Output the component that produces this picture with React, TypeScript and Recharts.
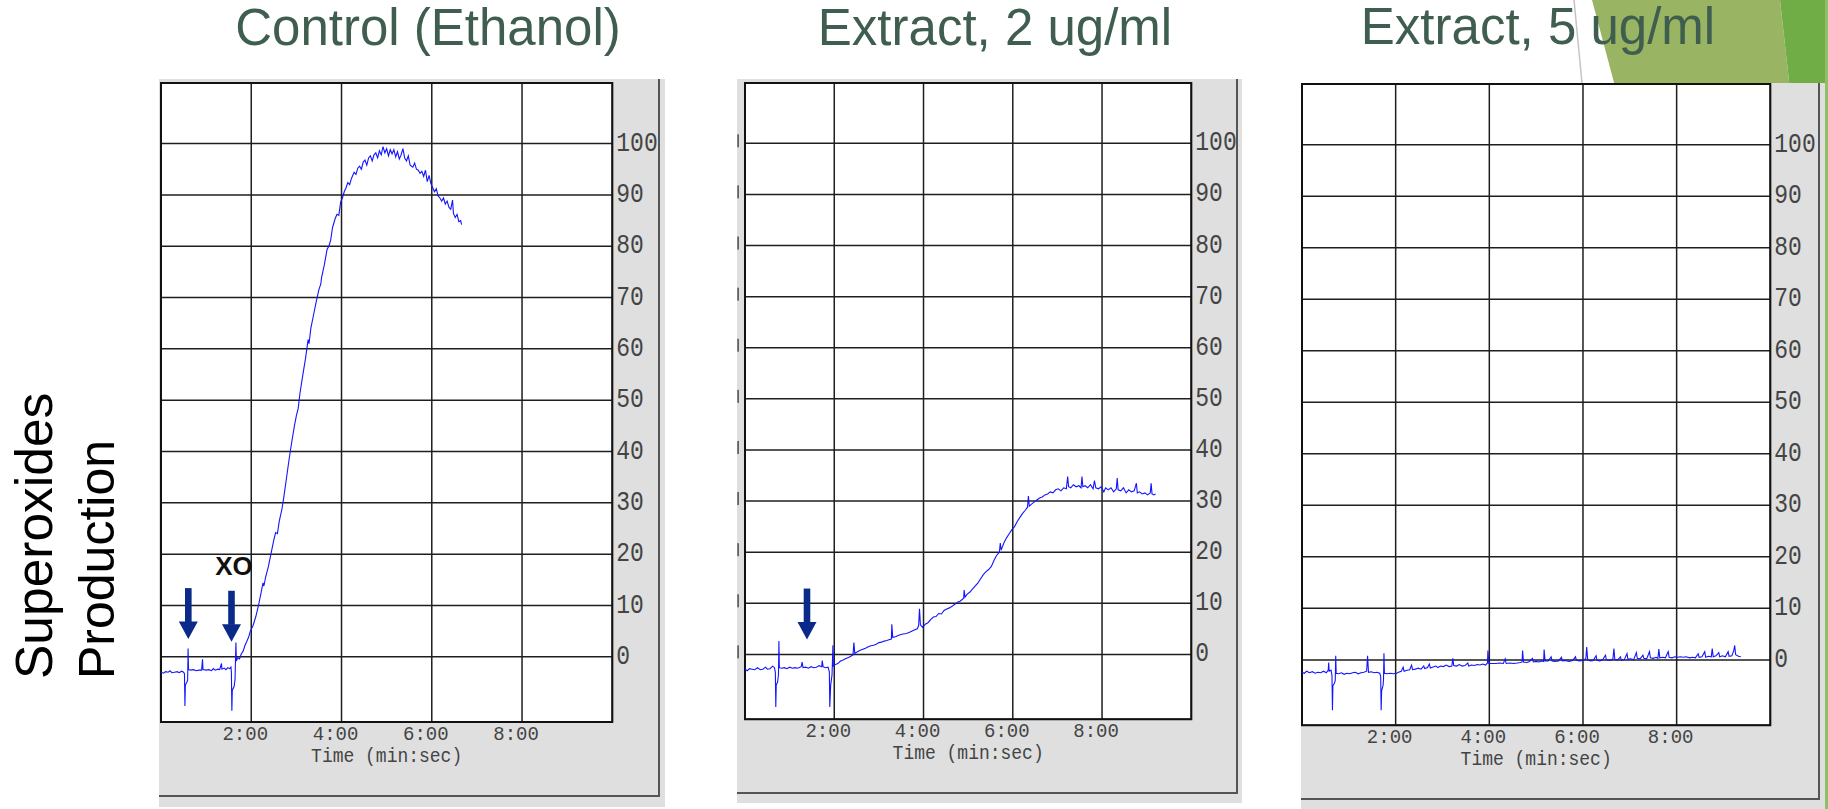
import React from "react";
import {
  LineChart,
  Line,
  XAxis,
  YAxis,
  CartesianGrid,
  ReferenceArea,
  ReferenceDot,
} from "recharts";

// ---- data (time in minutes, signal in %) ----
const panelTitles = ["Control (Ethanol)", "Extract, 2 ug/ml", "Extract, 5 ug/ml"];
const yAxisTitle = ["Superoxides", "Production"];
const timeAxisTitle = "Time (min:sec)";
const timeTicks = [2, 4, 6, 8];
const signalTicks = [0, 10, 20, 30, 40, 50, 60, 70, 80, 90, 100];
const timeDomain: [number, number] = [0, 10];
const signalDomain: [number, number] = [-12.7, 111.8];

const controlTrace: [number, number][] = [
  [0.0, -3.0], [0.06, -3.2], [0.1, -2.9], [0.16, -3.0], [0.2, -2.7], [0.24, -3.1], [0.3, -3.0],
  [0.36, -2.9], [0.4, -3.1], [0.46, -2.8], [0.5, -3.0], [0.52, -3.3], [0.53, -9.6], [0.54, -5.5],
  [0.57, -5.0], [0.59, -4.6], [0.6, 1.6], [0.61, -2.5], [0.66, -2.6], [0.72, -2.5], [0.78, -2.7],
  [0.84, -2.6], [0.9, -2.6], [0.92, -0.5], [0.93, -2.5], [1.0, -2.6], [1.06, -2.5], [1.12, -2.7],
  [1.16, -2.3], [1.2, -2.6], [1.26, -2.4], [1.3, -2.5], [1.34, -1.3], [1.35, -2.4], [1.4, -2.2],
  [1.44, -2.5], [1.48, -2.1], [1.52, -2.3], [1.55, -2.0], [1.56, -3.0], [1.57, -10.5], [1.58, -6.5],
  [1.62, -5.8], [1.64, -4.5], [1.66, 2.8], [1.67, -0.8], [1.7, -0.2], [1.74, -0.4], [1.78, 0.6],
  [1.82, 1.1], [1.86, 2.2], [1.9, 3.0], [1.94, 3.8], [1.98, 5.0], [2.04, 6.1], [2.1, 7.8],
  [2.16, 10.0], [2.22, 12.6], [2.26, 14.4], [2.28, 13.8], [2.32, 15.6], [2.38, 17.6], [2.44, 20.2],
  [2.5, 22.8], [2.54, 24.2], [2.58, 24.0], [2.62, 26.4], [2.68, 28.8], [2.72, 31.0], [2.78, 34.8],
  [2.84, 38.6], [2.9, 42.0], [2.96, 45.2], [3.0, 47.0], [3.04, 48.4], [3.08, 51.4], [3.14, 54.8],
  [3.2, 58.0], [3.26, 61.8], [3.28, 61.0], [3.32, 64.0], [3.38, 66.6], [3.44, 69.2], [3.5, 71.6],
  [3.54, 72.6], [3.56, 74.0], [3.62, 76.4], [3.68, 79.4], [3.72, 80.0], [3.76, 81.2], [3.8, 83.6],
  [3.86, 85.4], [3.9, 86.2], [3.94, 86.0], [3.98, 88.6], [4.02, 89.4], [4.06, 90.6], [4.1, 91.4],
  [4.14, 92.4], [4.18, 92.0], [4.22, 93.2], [4.28, 94.4], [4.32, 94.0], [4.36, 95.2], [4.4, 95.6],
  [4.44, 95.0], [4.48, 96.4], [4.52, 96.8], [4.56, 95.8], [4.6, 97.2], [4.64, 97.6], [4.68, 96.6],
  [4.72, 97.8], [4.76, 98.2], [4.8, 97.2], [4.84, 98.6], [4.88, 97.8], [4.92, 99.4], [4.96, 98.2],
  [5.0, 99.0], [5.04, 97.6], [5.08, 98.8], [5.12, 98.0], [5.16, 98.8], [5.2, 97.4], [5.24, 98.4],
  [5.28, 97.0], [5.32, 97.8], [5.36, 99.0], [5.4, 97.2], [5.44, 96.6], [5.48, 97.6], [5.52, 95.8],
  [5.58, 95.4], [5.62, 96.2], [5.66, 95.0], [5.7, 94.8], [5.74, 94.2], [5.78, 94.6], [5.82, 93.6],
  [5.86, 94.8], [5.9, 92.6], [5.94, 93.8], [5.98, 92.2], [6.02, 91.4], [6.06, 90.6], [6.1, 91.2],
  [6.14, 89.8], [6.18, 89.4], [6.22, 88.8], [6.26, 89.4], [6.3, 88.2], [6.34, 88.8], [6.38, 87.6],
  [6.42, 87.2], [6.46, 89.0], [6.48, 86.4], [6.52, 85.6], [6.56, 86.2], [6.6, 84.8], [6.64, 85.0],
  [6.66, 84.2],
];

const extract2Trace: [number, number][] = [
  [0.0, -2.9], [0.05, -3.2], [0.1, -2.8], [0.16, -2.9], [0.22, -3.0], [0.28, -2.6], [0.34, -3.0],
  [0.4, -2.9], [0.46, -2.5], [0.5, -2.9], [0.56, -2.8], [0.62, -2.3], [0.66, -2.6], [0.68, -3.5],
  [0.69, -10.3], [0.7, -6.0], [0.73, -5.4], [0.75, -4.0], [0.76, 2.6], [0.77, -2.6], [0.82, -2.7],
  [0.88, -2.6], [0.94, -2.8], [1.0, -2.5], [1.06, -2.7], [1.12, -2.6], [1.18, -2.7], [1.26, -2.4],
  [1.28, -1.5], [1.3, -2.6], [1.36, -2.5], [1.42, -2.7], [1.48, -2.4], [1.54, -2.6], [1.6, -2.5],
  [1.66, -2.2], [1.72, -2.4], [1.73, -1.2], [1.75, -2.4], [1.8, -2.6], [1.86, -2.5], [1.89, -3.4],
  [1.9, -10.3], [1.92, -6.0], [1.95, -4.0], [1.97, 1.8], [1.98, -2.3], [2.02, -2.0], [2.08, -1.8],
  [2.14, -1.3], [2.2, -1.1], [2.26, -0.8], [2.32, -0.6], [2.38, -0.3], [2.42, -0.1], [2.44, 2.3],
  [2.46, 0.2], [2.52, 0.5], [2.58, 0.8], [2.64, 1.0], [2.7, 1.2], [2.76, 1.5], [2.82, 1.7],
  [2.88, 1.8], [2.94, 2.0], [3.0, 2.3], [3.06, 2.4], [3.12, 2.6], [3.18, 2.7], [3.24, 2.9],
  [3.28, 3.0], [3.29, 5.9], [3.31, 3.3], [3.38, 3.5], [3.46, 3.8], [3.54, 4.0], [3.62, 4.1],
  [3.7, 4.4], [3.78, 4.7], [3.86, 5.0], [3.89, 5.6], [3.91, 8.9], [3.93, 5.8], [3.98, 5.3],
  [4.04, 5.9], [4.1, 6.2], [4.16, 6.8], [4.22, 7.3], [4.28, 7.4], [4.34, 8.0], [4.4, 7.9],
  [4.46, 8.6], [4.52, 8.9], [4.58, 9.1], [4.64, 9.4], [4.7, 9.8], [4.76, 10.2], [4.82, 10.4],
  [4.9, 11.0], [4.91, 12.6], [4.93, 11.2], [4.98, 11.8], [5.04, 12.2], [5.1, 12.8], [5.16, 13.4],
  [5.22, 14.0], [5.28, 14.8], [5.34, 15.6], [5.4, 16.2], [5.46, 16.6], [5.52, 17.2], [5.58, 18.4],
  [5.64, 19.4], [5.7, 20.0], [5.72, 21.8], [5.74, 20.4], [5.8, 21.8], [5.86, 22.8], [5.92, 23.6],
  [5.98, 24.4], [6.04, 25.0], [6.1, 26.0], [6.16, 26.8], [6.22, 27.6], [6.28, 28.2], [6.33, 28.8],
  [6.35, 31.0], [6.37, 29.0], [6.42, 29.4], [6.48, 29.8], [6.54, 30.2], [6.6, 30.6], [6.66, 30.8],
  [6.72, 31.2], [6.78, 31.4], [6.84, 31.8], [6.9, 31.6], [6.96, 32.2], [7.02, 32.4], [7.08, 32.0],
  [7.14, 32.6], [7.2, 32.4], [7.23, 34.8], [7.25, 32.8], [7.3, 32.6], [7.36, 33.2], [7.42, 32.8],
  [7.48, 33.0], [7.53, 32.6], [7.55, 34.8], [7.57, 32.8], [7.62, 33.0], [7.68, 32.6], [7.74, 33.2],
  [7.8, 32.4], [7.83, 34.0], [7.86, 32.6], [7.92, 32.4], [7.98, 32.8], [8.04, 31.8], [8.08, 32.6],
  [8.14, 32.2], [8.2, 32.6], [8.26, 31.8], [8.32, 32.4], [8.34, 34.5], [8.36, 32.2], [8.42, 32.0],
  [8.48, 32.6], [8.54, 31.6], [8.6, 32.2], [8.66, 31.8], [8.72, 32.0], [8.77, 33.5], [8.79, 31.6],
  [8.84, 31.8], [8.9, 31.4], [8.96, 31.6], [9.02, 31.2], [9.08, 31.6], [9.1, 33.5], [9.12, 31.4],
  [9.16, 31.2], [9.2, 31.4],
];

const extract5Trace: [number, number][] = [
  [0.0, -2.4], [0.05, -2.6], [0.1, -2.2], [0.16, -2.5], [0.22, -2.3], [0.28, -2.6], [0.34, -2.4],
  [0.4, -2.5], [0.46, -2.2], [0.52, -2.5], [0.56, -2.0], [0.57, -0.5], [0.58, -2.2], [0.62, -2.0],
  [0.64, -3.0], [0.65, -9.8], [0.66, -5.0], [0.69, -4.6], [0.71, -4.0], [0.72, 0.8], [0.73, -2.6],
  [0.78, -2.7], [0.84, -2.5], [0.9, -2.8], [0.96, -2.6], [1.02, -2.7], [1.08, -2.5], [1.14, -2.4],
  [1.2, -2.7], [1.26, -2.5], [1.32, -2.4], [1.38, -2.2], [1.4, 0.8], [1.42, -2.4], [1.48, -2.3],
  [1.54, -2.5], [1.6, -2.4], [1.66, -2.6], [1.68, -3.2], [1.69, -9.8], [1.7, -6.0], [1.73, -5.0],
  [1.74, -4.0], [1.75, 1.3], [1.76, -2.6], [1.82, -2.7], [1.88, -2.6], [1.96, -2.7], [2.02, -2.6],
  [2.06, -2.4], [2.12, -2.2], [2.16, -1.4], [2.18, -2.2], [2.24, -2.0], [2.3, -1.9], [2.34, -1.0],
  [2.36, -1.9], [2.42, -1.8], [2.48, -1.6], [2.54, -1.8], [2.6, -1.2], [2.62, -1.7], [2.68, -1.5],
  [2.72, -0.8], [2.74, -1.6], [2.8, -1.4], [2.86, -1.2], [2.9, -1.5], [2.96, -1.2], [3.02, -1.3],
  [3.08, -1.0], [3.14, -1.3], [3.2, -1.2], [3.22, 0.3], [3.24, -1.1], [3.3, -1.2], [3.36, -0.9],
  [3.42, -1.2], [3.48, -1.1], [3.54, -0.6], [3.56, -1.2], [3.62, -1.0], [3.68, -1.1], [3.74, -0.9],
  [3.8, -1.0], [3.86, -0.8], [3.92, -1.0], [3.96, -0.6], [3.97, 1.8], [3.99, -0.7], [4.06, -0.7],
  [4.14, -0.7], [4.22, -0.6], [4.3, -0.7], [4.34, 0.2], [4.36, -0.7], [4.44, -0.6], [4.52, -0.7],
  [4.6, -0.6], [4.66, -0.5], [4.7, -0.4], [4.71, 1.8], [4.73, -0.4], [4.8, -0.5], [4.86, -0.3],
  [4.92, 0.3], [4.94, -0.4], [5.0, -0.3], [5.06, -0.4], [5.12, -0.2], [5.16, -0.3], [5.17, 2.0],
  [5.19, -0.2], [5.26, -0.2], [5.32, 0.6], [5.34, -0.2], [5.4, -0.3], [5.48, -0.2], [5.54, 0.5],
  [5.56, -0.2], [5.62, -0.1], [5.7, -0.3], [5.78, -0.1], [5.84, 0.6], [5.86, -0.1], [5.92, -0.2],
  [6.0, -0.1], [6.06, 0.2], [6.08, 2.5], [6.1, 0.0], [6.16, -0.2], [6.22, -0.1], [6.28, 0.8],
  [6.3, -0.1], [6.36, -0.2], [6.42, 0.0], [6.48, 0.9], [6.5, 0.0], [6.58, -0.1], [6.64, 0.2],
  [6.66, 2.2], [6.68, 0.1], [6.74, 0.0], [6.8, 0.6], [6.82, -0.1], [6.88, 0.0], [6.94, 1.2],
  [6.96, 0.1], [7.02, 0.2], [7.08, 0.0], [7.14, 1.4], [7.16, 0.3], [7.22, 0.2], [7.28, 0.9],
  [7.3, 0.3], [7.36, 0.2], [7.42, 1.6], [7.44, 0.4], [7.5, 0.3], [7.56, 0.5], [7.6, 0.3],
  [7.62, 2.1], [7.64, 0.4], [7.7, 0.5], [7.76, 0.4], [7.82, 1.6], [7.84, 0.5], [7.9, 0.4],
  [7.96, 0.6], [8.02, 0.5], [8.08, 0.6], [8.14, 0.5], [8.2, 0.6], [8.28, 0.4], [8.34, 0.5],
  [8.4, 0.4], [8.46, 1.2], [8.48, 0.5], [8.54, 0.6], [8.6, 1.6], [8.62, 0.5], [8.68, 0.7],
  [8.74, 0.6], [8.76, 2.2], [8.78, 0.6], [8.84, 0.8], [8.9, 1.4], [8.92, 0.6], [8.98, 0.8],
  [9.04, 0.6], [9.1, 1.6], [9.12, 0.7], [9.18, 0.8], [9.22, 1.8], [9.24, 2.8], [9.26, 1.0],
  [9.32, 0.7], [9.37, 0.6],
];

// addition markers: [time, signal at arrow tip]
const controlArrows: [number, number][] = [[0.605, 3.45], [1.562, 2.93]];
const extract2Arrows: [number, number][] = [[1.389, 2.9]];
const xoNote = { text: "XO", t: 1.203, v: 15.9 };

// ---- layout (pixels on the 1828 x 809 slide) ----
const sans = "'Liberation Sans', Arial, Helvetica, sans-serif";
const mono = "'Courier New', Courier, 'Liberation Mono', monospace";
const titleColor = "#3f5e4f";
const panelGray = "#dfdfdf";
const traceBlue = "#1414ff";
const arrowBlue = "#0a2a8a";

const layouts = [
  { plot: { x: 160.7, y: 83, w: 451.3, h: 639 }, frame: { x: 159, y: 79, r: 665, b: 807, br: 659, bb: 796 }, titleX: 428, titleY: 45 },
  { plot: { x: 745, y: 82.7, w: 446.3, h: 636.3 }, frame: { x: 737, y: 79, r: 1242, b: 803, br: 1236.7, bb: 793 }, titleX: 995, titleY: 45 },
  { plot: { x: 1301.7, y: 83.7, w: 468.3, h: 641.3 }, frame: { x: 1301, y: 83, r: 1825, b: 809, br: 1819, bb: 799.3 }, titleX: 1538, titleY: 44 },
];

function SignalTick(props: any) {
  const { x, y, payload } = props;
  return (
    <text transform={`translate(${x},${y}) scale(1,1.2)`} fontFamily={mono} fontSize={23} fill="#444" dominantBaseline="central">
      {payload.value}
    </text>
  );
}

function TimeTick(props: any) {
  const { x, y, payload } = props;
  return (
    <text transform={`translate(${x - 6},${y + 12.5}) scale(1,1.08)`} fontFamily={mono} fontSize={19} fill="#444" textAnchor="middle" dominantBaseline="central">
      {`${payload.value}:00`}
    </text>
  );
}

function CutTick(props: any) {
  const { x, y } = props;
  return <rect x={x - 7.7} y={y - 9} width={1.6} height={13} fill="#555" />;
}

function TimeTitle(props: any) {
  const vb = props.viewBox || {};
  return (
    <text transform={`translate(${vb.x + vb.width / 2},${vb.y + 35}) scale(1,1.08)`} fontFamily={mono} fontSize={18} fill="#444" textAnchor="middle" dominantBaseline="central">
      {timeAxisTitle}
    </text>
  );
}

function DownArrow(props: any) {
  const { cx, cy } = props;
  if (cx == null || cy == null) return null;
  return (
    <g>
      <rect x={cx - 3.3} y={cy - 51} width={6.6} height={34} fill={arrowBlue} />
      <polygon points={`${cx - 9.5},${cy - 17.5} ${cx + 9.5},${cy - 17.5} ${cx},${cy}`} fill={arrowBlue} />
    </g>
  );
}

function NoteText(props: any) {
  const { cx, cy } = props;
  if (cx == null || cy == null) return null;
  return (
    <text x={cx} y={cy} fontFamily={sans} fontWeight="bold" fontSize={26} fill="#111">
      {xoNote.text}
    </text>
  );
}

type PanelProps = {
  idx: number;
  trace: [number, number][];
  arrows: [number, number][];
  note?: boolean;
  cutTicks?: boolean;
};

function Panel({ idx, trace, arrows, note, cutTicks }: PanelProps) {
  const L = layouts[idx];
  const pad = 4;
  const yw = 60;
  const xh = 60;
  const leftW = cutTicks ? 8 : pad;
  const data = trace.map(([t, v]) => ({ t, v }));
  return (
    <>
      <div style={{ position: "absolute", left: L.frame.x, top: L.frame.y, width: L.frame.r - L.frame.x, height: L.frame.b - L.frame.y, background: panelGray }} />
      <div
        style={{
          position: "absolute",
          left: L.frame.x,
          top: L.frame.y,
          width: L.frame.br + 1 - L.frame.x,
          height: L.frame.bb + 1 - L.frame.y,
          borderRight: "2px solid #555",
          borderBottom: "2px solid #555",
          boxSizing: "border-box",
        }}
      />
      <div style={{ position: "absolute", left: L.plot.x - leftW, top: L.plot.y - pad }}>
        <LineChart
          width={L.plot.w + leftW + yw}
          height={L.plot.h + pad + xh}
          data={data}
          margin={{ top: pad, left: cutTicks ? 0 : pad, right: 0, bottom: 0 }}
        >
          <CartesianGrid stroke="#1e1e1e" strokeWidth={1.5} fill="#ffffff" fillOpacity={1} />
          <XAxis
            dataKey="t"
            type="number"
            domain={timeDomain}
            ticks={timeTicks}
            interval={0}
            allowDataOverflow
            axisLine={false}
            tickLine={false}
            tickSize={0}
            tickMargin={0}
            height={xh}
            tick={(p: any) => <TimeTick {...p} />}
            label={<TimeTitle />}
          />
          <YAxis
            orientation="right"
            type="number"
            domain={signalDomain}
            ticks={signalTicks}
            interval={0}
            allowDataOverflow
            axisLine={false}
            tickLine={false}
            tickSize={0}
            tickMargin={4}
            width={yw}
            tick={(p: any) => <SignalTick {...p} />}
          />
          {cutTicks && (
            <YAxis
              yAxisId="cut"
              orientation="left"
              type="number"
              domain={signalDomain}
              ticks={signalTicks}
              interval={0}
              allowDataOverflow
              axisLine={false}
              tickLine={false}
              tickSize={0}
              tickMargin={0}
              width={8}
              tick={(p: any) => <CutTick {...p} />}
            />
          )}
          <ReferenceArea
            x1={timeDomain[0]}
            x2={timeDomain[1]}
            y1={signalDomain[0]}
            y2={signalDomain[1]}
            fill="none"
            fillOpacity={0}
            stroke="#111"
            strokeWidth={2}
            ifOverflow="visible"
          />
          <Line dataKey="v" type="linear" stroke={traceBlue} strokeWidth={1.1} dot={false} activeDot={false} isAnimationActive={false} />
          {arrows.map(([t, v], i) => (
            <ReferenceDot key={i} x={t} y={v} r={0} ifOverflow="visible" shape={(p: any) => <DownArrow {...p} />} />
          ))}
          {note && <ReferenceDot x={xoNote.t} y={xoNote.v} r={0} ifOverflow="visible" shape={(p: any) => <NoteText {...p} />} />}
        </LineChart>
      </div>
    </>
  );
}

export default function App() {
  return (
    <div style={{ position: "absolute", left: 0, top: 0, width: 1828, height: 809, background: "#fff", overflow: "hidden" }}>
      <svg width={1828} height={809} style={{ position: "absolute", left: 0, top: 0 }}>
        <polygon points="1592,0 1780,0 1790,90 1616,90" fill="#99b463" />
        <polygon points="1780,0 1828,0 1828,90 1790,90" fill="#70ad47" />
        <line x1={1574} y1={0} x2={1582} y2={83} stroke="#c4c4c4" strokeWidth={1.5} />
        <rect x={1825} y={0} width={3} height={809} fill="#8fbf66" />
        {panelTitles.map((t, i) => (
          <text key={t} x={layouts[i].titleX} y={layouts[i].titleY} textAnchor="middle" fontFamily={sans} fontSize={51} fill={titleColor}>
            {t}
          </text>
        ))}
        <text x={52} y={679} transform="rotate(-90 52 679)" fontFamily={sans} fontSize={51.5} fill="#000">
          {yAxisTitle[0]}
        </text>
        <text x={113.8} y={679} transform="rotate(-90 113.8 679)" fontFamily={sans} fontSize={50} fill="#000">
          {yAxisTitle[1]}
        </text>
      </svg>
      <Panel idx={0} trace={controlTrace} arrows={controlArrows} note />
      <Panel idx={1} trace={extract2Trace} arrows={extract2Arrows} cutTicks />
      <Panel idx={2} trace={extract5Trace} arrows={[]} />
    </div>
  );
}
